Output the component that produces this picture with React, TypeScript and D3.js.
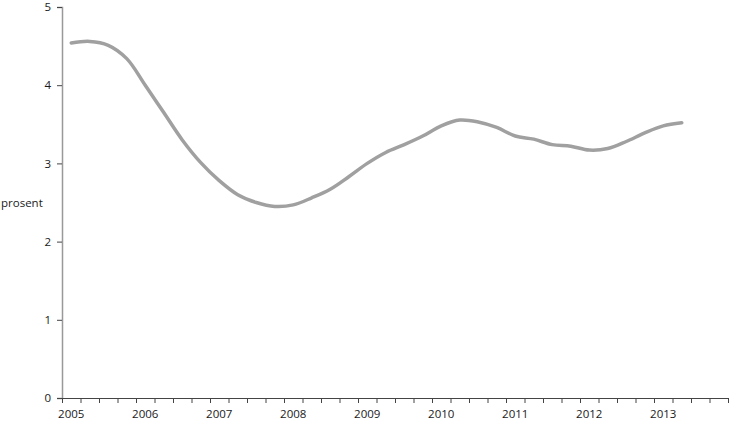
import React, { useEffect, useRef } from "react";
import * as d3 from "d3";

// quarterly series, 2005 Q1 - 2013 Q2
const years = ["2005", "2006", "2007", "2008", "2009", "2010", "2011", "2012", "2013"];
const quartersPerYear = 4;
const totalQuarters = 36;
const values = [
  4.54, 4.56, 4.51, 4.34,
  4.0, 3.65, 3.3, 3.01,
  2.78, 2.6, 2.5, 2.45,
  2.47, 2.56, 2.67, 2.83,
  3.0, 3.14, 3.24, 3.35,
  3.48, 3.555, 3.53, 3.46,
  3.35, 3.31, 3.24, 3.22,
  3.17, 3.19, 3.28, 3.39,
  3.48, 3.52,
];
const yTicks = [0, 1, 2, 3, 4, 5];
const yLabel = "prosent";

const W = 730, H = 423;
const margin = { top: 7, right: 2, bottom: 25, left: 62 };

const App: React.FC = () => {
  const ref = useRef<SVGSVGElement>(null);

  useEffect(() => {
    const svg = d3.select(ref.current);
    svg.selectAll("*").remove();
    const font = "'Open Sans', 'Noto Sans', sans-serif";

    const x = d3.scaleLinear().domain([0, totalQuarters]).range([margin.left, W - margin.right]);
    const y = d3.scaleLinear().domain([0, 5]).range([H - margin.bottom, margin.top]);

    // y axis
    const gy = svg.append("g").attr("transform", `translate(${margin.left},0)`)
      .call(d3.axisLeft(y).tickValues(yTicks).tickSize(5).tickPadding(6).tickFormat(d3.format("d")));
    gy.select(".domain").attr("stroke", "#999").attr("stroke-width", 1.5);
    gy.selectAll(".tick line").attr("stroke", "#444");
    gy.selectAll("text").attr("font-family", font).attr("font-size", 11.5).attr("fill", "#1a1a1a");

    // x axis: ticks at quarter boundaries, labels under first quarter of each year
    const gx = svg.append("g").attr("transform", `translate(0,${y(0)})`)
      .call(d3.axisBottom(x).tickValues(d3.range(0, totalQuarters + 1)).tickSize(5).tickFormat(() => ""));
    gx.select(".domain").attr("stroke", "#444");
    gx.selectAll(".tick line").attr("stroke", "#444");

    svg.append("g").selectAll("text").data(years).join("text")
      .attr("x", (_d, i) => x(i * quartersPerYear + 0.5))
      .attr("y", y(0) + 20)
      .attr("text-anchor", "middle")
      .attr("font-family", font).attr("font-size", 11.5).attr("fill", "#1a1a1a")
      .text(d => d);

    svg.append("text")
      .attr("x", 1).attr("y", 207)
      .attr("font-family", font).attr("font-size", 11.5).attr("fill", "#1a1a1a")
      .text(yLabel);

    const line = d3.line<number>()
      .x((_d, i) => x(i + 0.5))
      .y(d => y(d))
      .curve(d3.curveCatmullRom.alpha(0.5));

    svg.append("path").datum(values)
      .attr("d", line)
      .attr("fill", "none")
      .attr("stroke", "#a0a0a0")
      .attr("stroke-width", 3.5)
      .attr("stroke-linecap", "round");
  }, []);

  return (
    <svg ref={ref} width={W} height={H}
      style={{ position: "absolute", left: 0, top: 0, background: "#fff" }} />
  );
};

export default App;
